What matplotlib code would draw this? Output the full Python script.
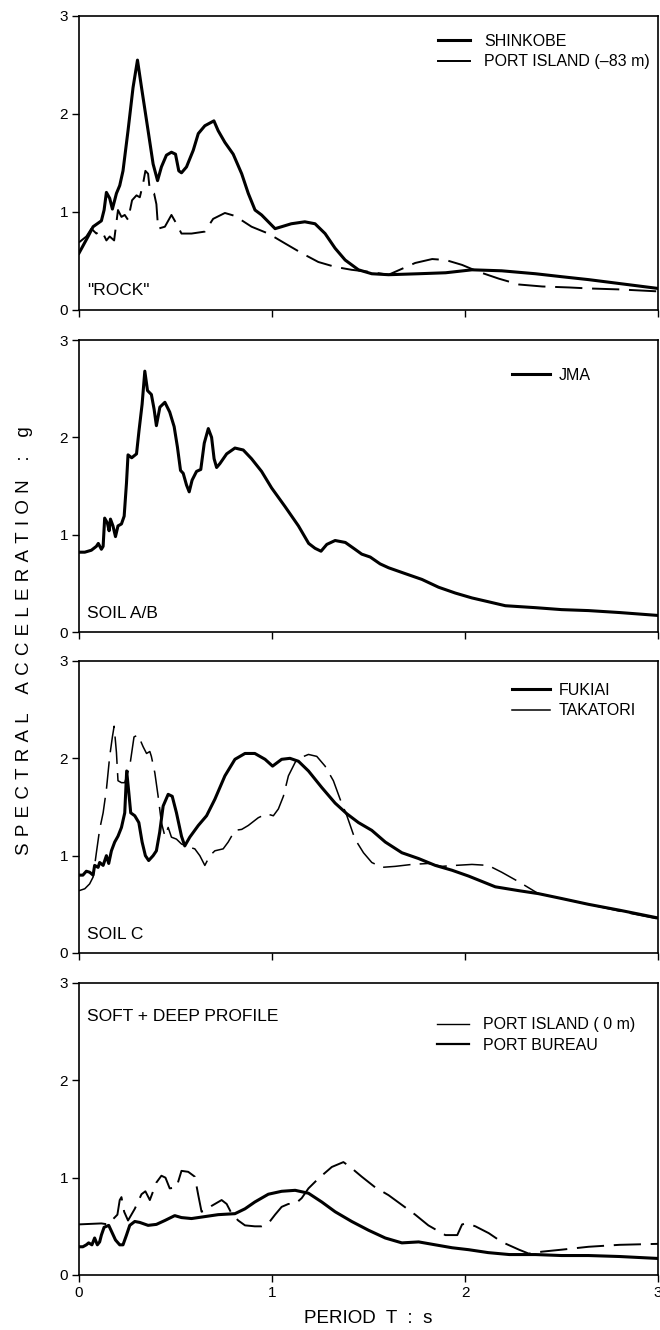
import matplotlib
matplotlib.use("Agg")
import matplotlib.pyplot as plt
from matplotlib.lines import Line2D

plt.rcParams['font.family'] = ['Liberation Sans', 'DejaVu Sans']

# --- panel 1: "ROCK"
shinkobe_t = [0, .047, .073, .116, .13, .142, .159, .173, .194, .211, .228, .254, .28, .303, .324, .358,
              .384, .407, .427, .453, .479, .5, .517, .531, .557, .592, .618, .652, .699, .721, .756, .799,
              .843, .877, .912, .946, .981, 1.016, 1.05, 1.10, 1.17, 1.223, 1.275, 1.327, 1.379, 1.448,
              1.517, 1.604, 1.76, 1.90, 2.036, 2.19, 2.365, 2.50, 2.64, 2.8, 3.0]
shinkobe_sa = [.58, .75, .85, .91, 1.02, 1.20, 1.14, 1.03, 1.19, 1.27, 1.42, 1.83, 2.27, 2.55, 2.27, 1.83,
               1.49, 1.32, 1.46, 1.58, 1.61, 1.59, 1.42, 1.40, 1.46, 1.63, 1.80, 1.88, 1.93, 1.83, 1.71, 1.59,
               1.39, 1.19, 1.02, .97, .90, .83, .85, .88, .90, .88, .78, .63, .51, .41,
               .37, .36, .37, .38, .41, .40, .37, .34, .31, .27, .22]
pi83_t = [0, .038, .064, .09, .107, .125, .142, .159, .182, .202, .22, .237, .254, .275, .298, .315, .332,
          .344, .358, .367, .389, .401, .41, .445, .479, .505, .531, .583, .652, .695, .756, .808, .894,
          .981, 1.067, 1.154, 1.24, 1.327, 1.413, 1.50, 1.604, 1.673, 1.742, 1.83, 1.90, 1.985, 2.07,
          2.175, 2.28, 2.40, 2.54, 2.64, 2.8, 3.0]
pi83_sa = [.69, .75, .83, .78, .81, .78, .71, .75, .71, 1.02, .95, .97, .92, 1.12, 1.17, 1.15, 1.29,
           1.42, 1.39, 1.22, 1.19, 1.08, .83, .85, .97, .88, .78, .78, .80, .93, .99, .96, .85,
           .78, .68, .58, .49, .44, .41, .39, .36, .42, .48, .52, .51, .46, .39,
           .32, .26, .24, .23, .22, .21, .19]

# --- panel 2: SOIL A/B
jma_t = [0, .03, .064, .09, .10, .116, .125, .133, .147, .156, .163, .176, .189, .202, .22, .234, .246,
         .254, .273, .298, .311, .327, .341, .355, .375, .389, .401, .419, .445, .47, .493, .51, .526,
         .54, .557, .571, .586, .609, .631, .649, .67, .687, .70, .713, .73, .765, .808, .851, .894,
         .946, .998, 1.067, 1.137, 1.19, 1.223, 1.254, 1.284, 1.327, 1.38, 1.43, 1.465, 1.509, 1.56,
         1.604, 1.69, 1.777, 1.863, 1.95, 2.036, 2.123, 2.209, 2.365, 2.50, 2.64, 2.8, 3.0]
jma_sa = [.82, .82, .84, .88, .91, .85, .88, 1.17, 1.12, 1.04, 1.16, 1.09, .98, 1.09, 1.11, 1.19, 1.53,
          1.82, 1.79, 1.83, 2.07, 2.34, 2.68, 2.48, 2.44, 2.29, 2.12, 2.31, 2.36, 2.26, 2.11, 1.90, 1.66,
          1.63, 1.51, 1.44, 1.56, 1.65, 1.67, 1.94, 2.09, 2.00, 1.78, 1.69, 1.73, 1.83, 1.89, 1.87, 1.78,
          1.65, 1.48, 1.29, 1.09, .91, .86, .83, .90, .94, .92, .85, .80, .77, .70,
          .66, .60, .54, .46, .40, .35, .31, .27, .25, .23, .22, .20, .17]

# --- panel 3: SOIL C
fukiai_t = [0, .02, .038, .055, .073, .081, .099, .107, .125, .142, .154, .168, .185, .202, .22, .237,
            .247, .258, .268, .289, .31, .327, .344, .361, .384, .401, .418, .436, .462, .483, .505, .531,
            .548, .574, .618, .661, .704, .756, .808, .86, .911, .964, 1.003, 1.05, 1.093, 1.137, 1.189,
            1.258, 1.327, 1.388, 1.448, 1.517, 1.587, 1.673, 1.76, 1.846, 1.933, 2.019, 2.157, 2.28,
            2.38, 2.50, 2.64, 2.8, 3.0]
fukiai_sa = [.80, .80, .84, .83, .80, .90, .88, .93, .90, 1.0, .92, 1.05, 1.14, 1.20, 1.29, 1.44,
             1.87, 1.65, 1.44, 1.41, 1.34, 1.14, 1.00, .95, 1.00, 1.05, 1.24, 1.51, 1.63, 1.61, 1.44, 1.20,
             1.10, 1.19, 1.31, 1.41, 1.58, 1.82, 1.99, 2.05, 2.05, 1.99, 1.92, 1.99, 2.00, 1.97, 1.87,
             1.70, 1.54, 1.43, 1.34, 1.26, 1.14, 1.03, .97, .90, .85, .79, .68, .64,
             .61, .56, .50, .44, .36]
takatori_t = [0, .03, .055, .073, .09, .107, .125, .142, .159, .173, .182, .194, .202, .22, .237, .263,
              .285, .306, .332, .35, .367, .375, .393, .41, .427, .445, .462, .479, .505, .531, .566, .6,
              .626, .652, .678, .704, .747, .773, .808, .843, .877, .929, .972, 1.007, 1.033, 1.059,
              1.085, 1.128, 1.189, 1.232, 1.275, 1.318, 1.353, 1.388, 1.43, 1.474, 1.517, 1.57, 1.638,
              1.725, 1.81, 1.88, 1.95, 2.036, 2.12, 2.19, 2.28, 2.38, 2.50, 2.64, 2.8, 3.0]
takatori_sa = [.64, .66, .71, .78, 1.03, 1.27, 1.44, 1.68, 2.02, 2.22, 2.33, 2.06, 1.77, 1.75, 1.75, 1.92,
               2.22, 2.24, 2.12, 2.05, 2.07, 2.02, 1.85, 1.61, 1.34, 1.20, 1.29, 1.19, 1.17, 1.12, 1.09, 1.07,
               1.00, .90, 1.00, 1.05, 1.07, 1.14, 1.26, 1.27, 1.31, 1.39, 1.43, 1.41, 1.48, 1.61,
               1.82, 1.99, 2.04, 2.02, 1.92, 1.77, 1.58, 1.41, 1.17, 1.03, .93, .88, .89,
               .91, .92, .89, .90, .91, .90, .83, .73, .61, .56, .50, .43, .35]

# --- panel 4: SOFT + DEEP PROFILE
pi0_t = [0, .02, .038, .05, .067, .081, .095, .107, .116, .13, .142, .154, .168, .189, .211, .228, .246,
         .263, .289, .315, .358, .401, .445, .496, .531, .583, .652, .721, .808, .86, .911, .981, 1.05,
         1.12, 1.189, 1.258, 1.327, 1.413, 1.50, 1.587, 1.673, 1.76, 1.846, 1.933, 2.019, 2.12, 2.23,
         2.365, 2.50, 2.64, 2.8, 3.0]
pi0_sa = [.29, .29, .31, .33, .31, .38, .31, .34, .41, .49, .50, .51, .45, .36, .31, .31, .41,
          .51, .55, .54, .51, .52, .56, .61, .59, .58, .60, .62, .63, .68, .75, .83, .86,
          .87, .84, .75, .65, .55, .46, .38, .33, .34, .31, .28, .26, .23, .21,
          .21, .20, .20, .19, .17]
bureau_t = [0, .116, .15, .199, .211, .22, .234, .254, .289, .324, .344, .367, .401, .427, .448, .47,
            .505, .531, .566, .6, .618, .635, .661, .687, .739, .765, .791, .825, .86, .911, .946, .981,
            1.016, 1.05, 1.085, 1.12, 1.154, 1.189, 1.24, 1.31, 1.37, 1.405, 1.465, 1.535, 1.604, 1.673,
            1.742, 1.81, 1.898, 1.96, 1.985, 2.01, 2.054, 2.123, 2.19, 2.28, 2.33, 2.40, 2.50, 2.64, 2.8, 3.0]
bureau_sa = [.52, .53, .52, .62, .77, .80, .65, .56, .68, .83, .86, .77, .95, 1.02, 1.00, .89,
             .90, 1.07, 1.06, 1.01, .82, .65, .67, .71, .77, .73, .63, .56, .51, .50, .50, .53,
             .62, .70, .73, .73, .79, .89, .99, 1.11, 1.16, 1.11, 1.01, .90, .82, .72,
             .62, .51, .41, .41, .52, .53, .50, .43, .34, .26, .22, .24, .26, .29, .31, .32]

panel_names = ['"ROCK"', 'SOIL A/B', 'SOIL C', 'SOFT + DEEP PROFILE']
ticks = [0, 1, 2, 3]

W, H = 660, 1330
fig = plt.figure(figsize=(W / 100, H / 100), dpi=100)

# pixel extents (top, bottom) of the four stacked panels
rows = [(16, 310), (340, 632), (661, 953), (983, 1275)]
x0, x1 = 79, 658
axes = []
for top, bot in rows:
    ax = fig.add_axes([x0 / W, 1 - bot / H, (x1 - x0) / W, (bot - top) / H])
    ax.set_xlim(0, 3)
    ax.set_ylim(0, 3)
    ax.set_xticks(ticks)
    ax.set_yticks(ticks)
    ax.tick_params(direction='out', length=5, width=1, labelsize=11, pad=3)
    for s in ax.spines.values():
        s.set_linewidth(1.2)
    axes.append(ax)

thick = dict(color='black', lw=2.2, solid_joinstyle='round')
dash = dict(color='black', lw=1.4, dashes=(14, 5))
thin_dash = dict(color='black', lw=1.1, dashes=(18, 6))
leg = dict(loc='upper left', frameon=False, fontsize=11.5, labelspacing=0.35, borderpad=0, borderaxespad=0)

ax = axes[0]
ax.plot(pi83_t, pi83_sa, **dash)
ax.plot(shinkobe_t, shinkobe_sa, **thick)
h = [Line2D([], [], color='black', lw=2.2), Line2D([], [], color='black', lw=1.4)]
ax.legend(h, ['SHINKOBE', 'PORT ISLAND (\u201383 m)'], bbox_to_anchor=(0.62, 0.94),
          handlelength=2.0, handletextpad=0.9, **leg)

ax = axes[1]
ax.plot(jma_t, jma_sa, **thick)
ax.legend([Line2D([], [], color='black', lw=2.2)], ['JMA'], bbox_to_anchor=(0.748, 0.905),
          handlelength=2.4, handletextpad=0.5, **leg)

ax = axes[2]
ax.plot(takatori_t, takatori_sa, **thin_dash)
ax.plot(fukiai_t, fukiai_sa, **thick)
h = [Line2D([], [], color='black', lw=2.2), Line2D([], [], color='black', lw=1.1)]
ax.legend(h, ['FUKIAI', 'TAKATORI'], bbox_to_anchor=(0.748, 0.926),
          handlelength=2.4, handletextpad=0.5, **leg)

ax = axes[3]
ax.plot(bureau_t, bureau_sa, **dash)
ax.plot(pi0_t, pi0_sa, **thick)
h = [Line2D([], [], color='black', lw=1.0), Line2D([], [], color='black', lw=1.6)]
ax.legend(h, ['PORT ISLAND ( 0 m)', 'PORT BUREAU'], bbox_to_anchor=(0.618, 0.882),
          handlelength=2.0, handletextpad=0.9, **leg)

label_y = [0.068, 0.065, 0.062, 0.884]
for ax, name, ly in zip(axes, panel_names, label_y):
    ax.text(0.014, ly, name, transform=ax.transAxes, fontsize=12.5, va='center', ha='left')

for ax in axes[:3]:
    ax.tick_params(labelbottom=False)

axes[3].set_xlabel('PERIOD  T  :  s', fontsize=13.5, labelpad=7)

sp = '\u2004'
ylab = (sp * 3).join(sp.join(w) for w in ['SPECTRAL', 'ACCELERATION', ':', 'g'])
fig.text(25 / W, 1 - 641 / H, ylab, rotation=90, ha='center', va='center', fontsize=13.5)

fig.savefig('out.png', dpi=100)
